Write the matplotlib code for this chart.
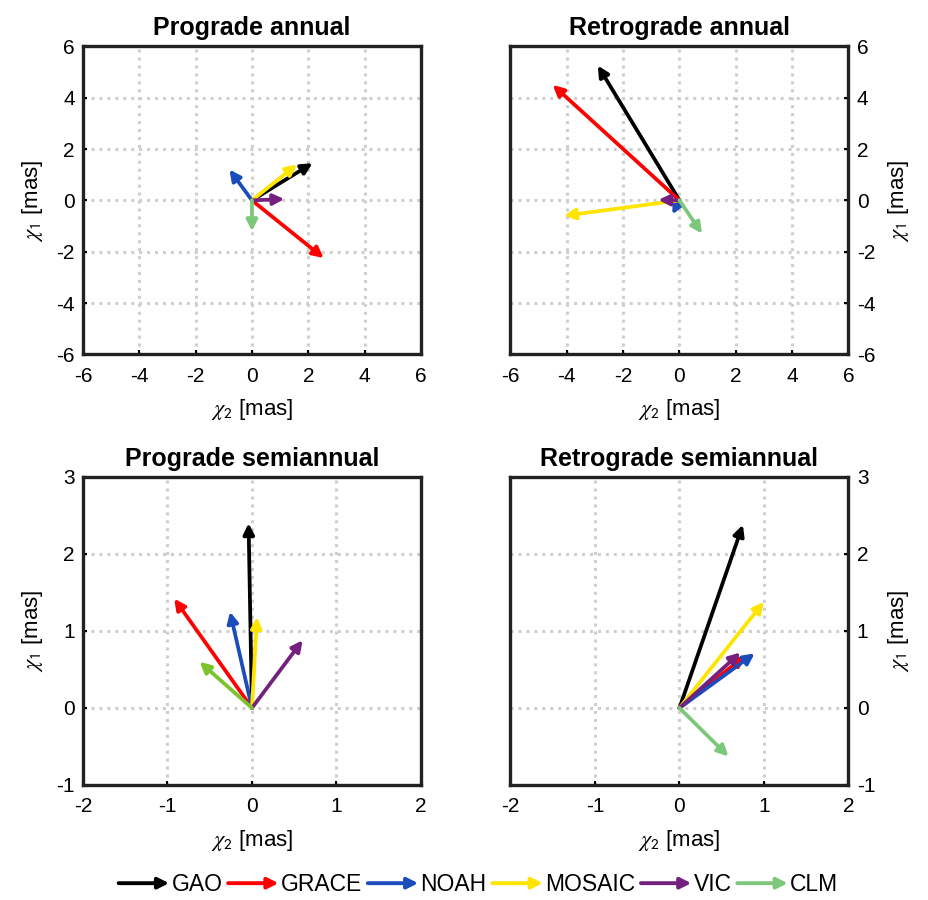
import numpy as np
import matplotlib
matplotlib.use("Agg")
from matplotlib import pyplot as plt
from matplotlib.lines import Line2D
from matplotlib.patches import FancyArrowPatch
from matplotlib.legend_handler import HandlerLine2D

plt.rcParams['font.family'] = ['Liberation Sans', 'DejaVu Sans']
plt.rcParams['mathtext.fontset'] = 'stix'
plt.rcParams['axes.unicode_minus'] = False

# model names and colours
names = ["GAO", "GRACE", "NOAH", "MOSAIC", "VIC", "CLM"]
colors = ["#000000", "#ff0000", "#1c4cbc", "#ffe400", "#74207f", "#7cc87a"]

# arrow tips (chi2, chi1) in mas
pro_ann_x = [2.15, 2.55, -0.8, 1.6, 1.15, 0.0]
pro_ann_y = [1.45, -2.25, 1.2, 1.4, 0.05, -1.2]
ret_ann_x = [-2.9, -4.5, -0.25, -4.1, -0.75, 0.8]
ret_ann_y = [5.25, 4.5, -0.55, -0.6, 0.02, -1.3]
pro_semi_x = [-0.04, -0.92, -0.26, 0.06, 0.6, -0.62]
pro_semi_y = [2.4, 1.42, 1.25, 1.18, 0.88, 0.6]
ret_semi_x = [0.75, 0.78, 0.89, 1.0, 0.72, 0.58]
ret_semi_y = [2.38, 0.68, 0.71, 1.38, 0.72, -0.63]

titles = ["Prograde annual", "Retrograde annual",
          "Prograde semiannual", "Retrograde semiannual"]


class HandlerArrow(HandlerLine2D):
    def create_artists(self, legend, orig_handle, xdescent, ydescent,
                       width, height, fontsize, trans):
        y = height / 2 - ydescent
        arr = FancyArrowPatch((-xdescent, y), (-xdescent + width, y),
                              arrowstyle='-|>', mutation_scale=16,
                              lw=2.8, color=orig_handle.get_color(),
                              shrinkA=0, shrinkB=0, transform=trans)
        return [arr]


def draw_panel(ax, xs, ys, lim_x, lim_y, ticks_x, ticks_y, title, right,
               clm_color=None):
    for i in range(len(names)):
        c = colors[i]
        if names[i] == "CLM" and clm_color is not None:
            c = clm_color
        ax.annotate("", xy=(xs[i], ys[i]), xytext=(0, 0),
                    arrowprops=dict(arrowstyle='-|>', color=c, lw=2.7,
                                    mutation_scale=16, shrinkA=0, shrinkB=0))
    ax.set_xlim(lim_x)
    ax.set_ylim(lim_y)
    ax.set_xticks(ticks_x)
    ax.set_yticks(ticks_y)
    ax.grid(True, color="#cfcfcf", linestyle=(0, (1, 1.6)), linewidth=2.2)
    ax.set_axisbelow(True)
    for s in ax.spines.values():
        s.set_linewidth(2.4)
        s.set_color("#222222")
    ax.tick_params(direction='in', length=3, width=1.5, labelsize=15,
                   pad=6, top=False, right=False)
    ax.tick_params(axis='x', pad=9)
    ax.set_title(title, fontsize=18, fontweight='bold', pad=8)
    ax.set_xlabel(r"$\chi_{\mathsf{2}}$ [mas]", fontsize=16, labelpad=8)
    ax.set_ylabel(r"$\chi_{\mathsf{1}}$ [mas]", fontsize=16, labelpad=8)
    if right:
        ax.yaxis.tick_right()
        ax.yaxis.set_label_position('right')
        ax.tick_params(axis='y', direction='in', length=3, width=1.5,
                       left=False, right=True)


fig = plt.figure(figsize=(9.29, 9.0), dpi=100)
w, h = 0.3638, 0.3422
ax1 = fig.add_axes([0.0893, 0.6063, w, h])
ax2 = fig.add_axes([0.5495, 0.6063, w, h])
ax3 = fig.add_axes([0.0893, 0.1278, w, h])
ax4 = fig.add_axes([0.5495, 0.1278, w, h])

draw_panel(ax1, pro_ann_x, pro_ann_y, (-6, 6), (-6, 6), range(-6, 7, 2),
           range(-6, 7, 2), titles[0], False)
draw_panel(ax2, ret_ann_x, ret_ann_y, (-6, 6), (-6, 6), range(-6, 7, 2),
           range(-6, 7, 2), titles[1], True)
draw_panel(ax3, pro_semi_x, pro_semi_y, (-2, 2), (-1, 3), range(-2, 3),
           range(-1, 4), titles[2], False, clm_color="#7cc22c")
draw_panel(ax4, ret_semi_x, ret_semi_y, (-2, 2), (-1, 3), range(-2, 3),
           range(-1, 4), titles[3], True)

handles = [Line2D([], [], color=c) for c in colors]
fig.legend(handles, names, handler_map={Line2D: HandlerArrow()},
           loc='center', bbox_to_anchor=(0.515, 0.017), ncol=6,
           frameon=False, fontsize=16.5, handlelength=2.2, handletextpad=0.1,
           columnspacing=0.25, borderpad=0.1)

fig.savefig("out.png", dpi=100)
